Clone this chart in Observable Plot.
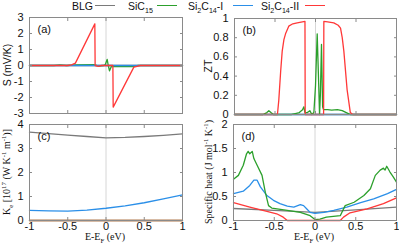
<!DOCTYPE html>
<html>
<head>
<meta charset="utf-8">
<script src="https://cdn.jsdelivr.net/npm/d3@7"></script>
<script src="https://cdn.jsdelivr.net/npm/@observablehq/plot@0.6"></script>
<style>
  html, body { margin: 0; padding: 0; background: #fff; }
  #wrap { position: relative; width: 399px; height: 245px; overflow: hidden; font-family: "Liberation Sans", Arial, sans-serif; }
  .pan { position: absolute; }
  .pan svg { overflow: visible; display: block; }
  .ttl { position: absolute; white-space: nowrap; font-size: 10.5px; color: #111; transform: translate(-50%, -50%); line-height: 1; }
  .rot { transform: translate(-50%, -50%) rotate(-90deg); }
  .serif { font-family: "Liberation Serif", "Times New Roman", serif; font-size: 10px; }
  sub, sup { font-size: 0.68em; line-height: 0; }
  .lt { position: absolute; top: 0; white-space: nowrap; font-size: 10.5px; line-height: 12px; color: #111; }
  .ll { position: absolute; top: 5px; height: 0; border-top: 1.3px solid; }
</style>
</head>
<body>
<div id="wrap"></div>
<script>
// ---------- data ----------
const seriesNames = ["BLG", "SiC15", "Si2C14-I", "Si2C14-II"];
const seriesColors = ["#7a7a7a", "#2ca02c", "#2b8fe8", "#ff3838"];

const xTicks = [-1, -0.5, 0, 0.5, 1];

// (a) Seebeck S (mV/K)
const sBLG_x = [-1, 1];
const sBLG_y = [0, 0];
const sSiC_x = [-1, -0.68, -0.6, -0.52, -0.4, -0.16, -0.12, -0.09, -0.03, -0.01, 0.015, 0.03, 0.046, 0.07, 0.1, 0.36, 0.42, 1];
const sSiC_y = [0, 0, 0.04, 0, 0.03, 0.05, 0, -0.03, 0, 0.05, 0.38, 0.0, -0.33, -0.06, -0.07, -0.07, 0, 0];
const sI_x = [-1, 1];
const sI_y = [0, 0];
const sII_x = [-1, -0.5, -0.45, -0.40, -0.146, -0.142, -0.1, -0.06, 0.09, 0.094, 0.364, 0.45, 1];
const sII_y = [0, 0, 0.04, 0.15, 2.6, 0, -0.05, 0, 0, -2.6, -0.1, 0, 0];

// (b) ZT
const zBLG_x = [-1, 1];
const zBLG_y = [0, 0];
const zSiC_x = [-1, -0.65, -0.6, -0.576, -0.55, -0.52, -0.3, -0.25, -0.2, -0.16, -0.144, -0.13, -0.1, -0.07, -0.045, -0.02, 0.0, 0.021, 0.04, 0.05, 0.06, 0.074, 0.088, 0.1, 0.15, 0.2, 0.27, 0.33, 0.38, 0.43, 0.5, 1];
const zSiC_y = [0, 0, 0.02, 0.04, 0.02, 0, 0, 0.01, 0.02, 0.05, 0.08, 0.02, 0.02, 0.04, 0, 0.02, 0.3, 0.84, 0.3, 0, 0.2, 0.73, 0.08, 0.05, 0.05, 0.045, 0.05, 0.04, 0.02, 0, 0, 0];
const zI_x = [-1, 1];
const zI_y = [0, 0];
const zII_x = [-1, -0.47, -0.453, -0.43, -0.411, -0.39, -0.37, -0.33, -0.28, -0.226, -0.13, -0.127, 0.10, 0.103, 0.15, 0.226, 0.28, 0.309, 0.33, 0.35, 0.39, 0.43, 0.46, 1];
const zII_y = [0, 0, 0.15, 0.45, 0.66, 0.78, 0.84, 0.92, 0.945, 0.955, 0.97, 0, 0, 0.97, 0.965, 0.955, 0.93, 0.9, 0.8, 0.66, 0.26, 0.02, 0, 0];

// (c) Ke [1e17 W/(K m)]
const kX = [-1, -0.75, -0.5, -0.25, 0, 0.25, 0.5, 0.75, 1];
const kBLG = [3.68, 3.62, 3.56, 3.5, 3.44, 3.46, 3.5, 3.55, 3.61];
const kSiC = [0, 0, 0, 0, 0, 0, 0, 0, 0];
const kI = [0.42, 0.4, 0.39, 0.43, 0.51, 0.61, 0.74, 0.9, 1.07];
const kII = [0, 0, 0, 0, 0, 0, 0, 0, 0];

// (d) Specific heat (J mol^-1 K^-1)
const cBLG_x = [-1, -0.5, 0, 0.5, 1];
const cBLG_y = [0.25, 0.21, 0.17, 0.22, 0.28];
const cSiC_x = [-1, -0.94, -0.88, -0.84, -0.82, -0.80, -0.77, -0.75, -0.71, -0.65, -0.61, -0.57, -0.53, -0.34, -0.18, -0.06, 0.0, 0.06, 0.14, 0.31, 0.37, 0.48, 0.60, 0.68, 0.74, 0.80, 0.84, 0.86, 0.88, 0.92, 0.96, 1];
const cSiC_y = [0.86, 0.94, 1.15, 1.39, 1.44, 1.39, 1.44, 1.29, 1.15, 0.94, 0.59, 0.31, 0.26, 0.21, 0.17, 0.10, 0.02, 0.03, 0.07, 0.10, 0.31, 0.38, 0.52, 0.66, 0.94, 1.05, 1.09, 1.05, 1.13, 1.01, 0.91, 0.80];
const cI_x = [-1, -0.88, -0.80, -0.75, -0.71, -0.67, -0.59, -0.51, -0.43, -0.34, -0.26, -0.18, -0.14, -0.10, -0.06, 0, 0.11, 0.23, 0.39, 0.56, 0.72, 0.89, 1];
const cI_y = [0.56, 0.61, 0.73, 0.84, 0.84, 0.70, 0.52, 0.42, 0.35, 0.30, 0.28, 0.33, 0.31, 0.24, 0.17, 0.15, 0.17, 0.21, 0.28, 0.37, 0.45, 0.56, 0.65];
const cII_x = [-1, -0.8, -0.59, -0.47, -0.39, -0.34, 0.31, 0.35, 0.43, 0.64, 0.84, 1];
const cII_y = [0.37, 0.28, 0.19, 0.14, 0.07, 0, 0, 0.07, 0.16, 0.24, 0.35, 0.47];

// ---------- helpers ----------
const pts = (xs, ys) => xs.map((x, i) => ({x, y: ys[i]}));
const fmt = d => String(d);
const blank = () => "";

function panel({left, top, width, height, ml, mt, mr, mb, yDomain, yTicks, xLabels, tag, series}) {
  const lines = series.map(([data, color]) =>
    Plot.line(data, {x: "x", y: "y", stroke: color, strokeWidth: 1.3}));
  const tickStyle = {tickSize: -3, tickFormat: blank, label: null, stroke: "#8a8a8a"};
  const svg = Plot.plot({
    width, height,
    marginLeft: ml, marginTop: mt, marginRight: mr, marginBottom: mb,
    x: {domain: [-1, 1]},
    y: {domain: yDomain},
    style: {fontFamily: "'Liberation Sans', Arial, sans-serif", fontSize: "11px", background: "transparent", color: "#111"},
    marks: [
      Plot.ruleX([0], {stroke: "#d6d6d6", strokeWidth: 1}),
      ...lines,
      Plot.frame({stroke: "#8a8a8a", strokeWidth: 1}),
      Plot.axisX(xTicks, {anchor: "bottom", ...tickStyle}),
      Plot.axisX(xTicks, {anchor: "top", ...tickStyle}),
      Plot.axisY(yTicks, {anchor: "left", ...tickStyle}),
      Plot.axisY(yTicks, {anchor: "right", ...tickStyle}),
      Plot.axisX(xTicks, {anchor: "bottom", tickSize: 0, tickPadding: 2, label: null, tickFormat: xLabels ? fmt : blank}),
      Plot.axisY(yTicks, {anchor: "left", tickSize: 0, tickPadding: 6, label: null, tickFormat: fmt}),
      Plot.text([tag], {frameAnchor: "top-left", dx: 8, dy: 8, fontSize: 11, fill: "#111"})
    ]
  });
  const div = document.createElement("div");
  div.className = "pan";
  div.style.left = left + "px";
  div.style.top = top + "px";
  div.appendChild(svg);
  document.getElementById("wrap").appendChild(div);
}

panel({left: 0, top: 0, width: 190, height: 122, ml: 29, mt: 17, mr: 8, mb: 9,
  yDomain: [-3, 3], yTicks: [-3, -2, -1, 0, 1, 2, 3], xLabels: false, tag: "(a)",
  series: [[pts(sBLG_x, sBLG_y), seriesColors[0]], [pts(sSiC_x, sSiC_y), seriesColors[1]], [pts(sI_x, sI_y), seriesColors[2]], [pts(sII_x, sII_y), seriesColors[3]]]});

panel({left: 195, top: 0, width: 204, height: 122, ml: 39, mt: 18, mr: 3, mb: 8,
  yDomain: [0, 1], yTicks: [0, 0.2, 0.4, 0.6, 0.8, 1], xLabels: false, tag: "(b)",
  series: [[pts(zBLG_x, zBLG_y), seriesColors[0]], [pts(zI_x, zI_y), seriesColors[2]], [pts(zSiC_x, zSiC_y), seriesColors[1]], [pts(zII_x, zII_y), seriesColors[3]]]});

panel({left: 0, top: 115, width: 190, height: 130, ml: 29, mt: 9, mr: 8, mb: 25,
  yDomain: [0, 4], yTicks: [0, 1, 2, 3, 4], xLabels: true, tag: "(c)",
  series: [[pts(kX, kBLG), seriesColors[0]], [pts(kX, kI), seriesColors[2]], [pts(kX, kSiC), seriesColors[1]], [pts(kX, kII), seriesColors[3]]]});

panel({left: 195, top: 115, width: 204, height: 130, ml: 38, mt: 9, mr: 3, mb: 25,
  yDomain: [0, 2], yTicks: [0, 0.5, 1, 1.5, 2], xLabels: true, tag: "(d)",
  series: [[pts(cBLG_x, cBLG_y), seriesColors[0]], [pts(cI_x, cI_y), seriesColors[2]], [pts(cSiC_x, cSiC_y), seriesColors[1]], [pts(cII_x, cII_y), seriesColors[3]]]});

// ---------- titles ----------
const wrap = document.getElementById("wrap");
function title(html, x, y, cls) {
  const d = document.createElement("div");
  d.className = "ttl " + cls;
  d.style.left = x + "px";
  d.style.top = y + "px";
  d.innerHTML = html;
  wrap.appendChild(d);
}
title("S (mV/K)", 7, 65, "rot");
title("ZT", 208, 66, "rot");
title("K<sub>e</sub> [10<sup>17</sup> (W K<sup>-1</sup> m<sup>-1</sup>)]", 7, 172, "rot serif");
title("Specific heat (J mol<sup>-1</sup> K<sup>-1</sup>)", 209, 172, "rot serif");
title("E-E<sub>F</sub> (eV)", 105, 237, "serif");
title("E-E<sub>F</sub> (eV)", 314, 237, "serif");

// ---------- legend ----------
const legendLabels = ["BLG", "SiC<sub>15</sub>", "Si<sub>2</sub>C<sub>14</sub>-I", "Si<sub>2</sub>C<sub>14</sub>-II"];
const legendTextLeft = [72, 128, 188, 261];
const legendLineLeft = [95, 157, 233, 305];
const legendLineWidth = 20;
legendLabels.forEach((lab, i) => {
  const t = document.createElement("div");
  t.className = "lt";
  t.style.left = legendTextLeft[i] + "px";
  t.innerHTML = lab;
  wrap.appendChild(t);
  const l = document.createElement("div");
  l.className = "ll";
  l.style.left = legendLineLeft[i] + "px";
  l.style.width = legendLineWidth + "px";
  l.style.borderColor = seriesColors[i];
  wrap.appendChild(l);
});
</script>
</body>
</html>
